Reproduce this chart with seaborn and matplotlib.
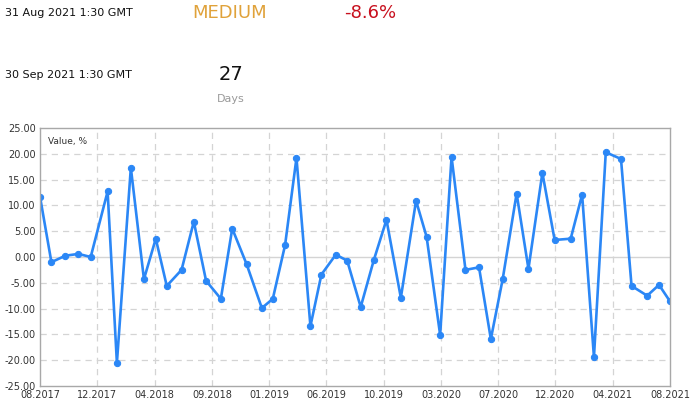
import matplotlib
matplotlib.use('Agg')
import matplotlib.pyplot as plt
import matplotlib.dates as mdates
import numpy as np
import pandas as pd
import seaborn as sns

# --- data ---
release_dates = [
    '2017-08-01', '2017-08-28', '2017-09-30', '2017-10-31', '2017-11-29',
    '2018-01-08', '2018-01-30', '2018-03-04', '2018-04-04', '2018-05-02',
    '2018-05-28', '2018-07-02', '2018-07-31', '2018-08-29', '2018-10-03',
    '2018-10-30', '2018-12-03', '2019-01-08', '2019-02-03', '2019-03-04',
    '2019-03-31', '2019-05-03', '2019-05-29', '2019-07-02', '2019-07-29',
    '2019-08-30', '2019-09-30', '2019-10-30', '2019-12-03', '2020-01-08',
    '2020-02-02', '2020-03-05', '2020-04-01', '2020-05-04', '2020-06-05',
    '2020-07-03', '2020-07-31', '2020-09-02', '2020-09-30', '2020-11-02',
    '2020-12-01', '2021-01-08', '2021-02-04', '2021-03-04', '2021-04-01',
    '2021-05-07', '2021-06-01', '2021-07-08', '2021-08-05', '2021-08-31',
]
values = [
    11.7, -1.0, 0.25, 0.6, 0.0,
    12.7, -20.5, 17.3, -4.3, 3.55,
    -5.6, -2.5, 6.85, -4.6, -8.1,
    5.5, -1.4, -9.9, -8.1, 2.3,
    19.2, -13.4, -3.4, 0.45, -0.7,
    -9.7, -0.6, 7.2, -7.9, 10.9,
    3.9, -15.1, 19.4, -2.5, -2.0,
    -15.9, -4.3, 12.3, -2.3, 16.3,
    3.3, 3.55, 12.1, -19.4, 20.3,
    19.0, -5.6, -7.5, -5.4, -8.6,
]
y_ticks = [-25, -20, -15, -10, -5, 0, 5, 10, 15, 20, 25]
n_xticks = 12

last_date = '31 Aug 2021 1:30 GMT'
next_date = '30 Sep 2021 1:30 GMT'
importance = 'MEDIUM'
last_value = '-8.6%'
days_left = '27'

df = pd.DataFrame({'Date': pd.to_datetime(release_dates), 'Value': values})

# --- style ---
sns.set_style('white')
line_blue = '#2b87f6'
grid_col = '#d4d4d4'
spine_col = '#a8a8a8'
tick_col = '#333333'

fig = plt.figure(figsize=(6.93, 4.07), dpi=100)
ax = fig.add_axes([40 / 693, 1 - 386 / 407, 630 / 693, 258 / 407])

sns.lineplot(data=df, x='Date', y='Value', ax=ax, color=line_blue,
             linewidth=1.9, marker='o', markersize=4.5,
             markeredgecolor=line_blue, markerfacecolor=line_blue)

# axes range and ticks
x0, x1 = df['Date'].iloc[0], df['Date'].iloc[-1]
ax.set_xlim(x0, x1)
ax.set_ylim(y_ticks[0], y_ticks[-1])
xt = np.linspace(mdates.date2num(x0), mdates.date2num(x1), n_xticks)
ax.set_xticks(xt)
ax.xaxis.set_major_formatter(mdates.DateFormatter('%m.%Y'))
ax.set_yticks(y_ticks)
ax.set_yticklabels([f'{v:.2f}' for v in y_ticks])
ax.tick_params(axis='both', length=0, labelsize=7, colors=tick_col, pad=3)
ax.set_xlabel('')
ax.set_ylabel('')

# grid
for v in y_ticks[1:-1]:
    if v == 0:
        ax.axhline(v, color=grid_col, linewidth=1.0, zorder=0)
    else:
        ax.axhline(v, color=grid_col, linewidth=0.9, linestyle=(0, (5, 4)), zorder=0)
for v in xt[1:-1]:
    ax.axvline(v, color=grid_col, linewidth=0.9, linestyle=(0, (5, 4)), zorder=0)

for s in ax.spines.values():
    s.set_visible(True)
    s.set_color(spine_col)
    s.set_linewidth(1.0)

ax.text(0.013, 0.965, 'Value, %', transform=ax.transAxes, ha='left', va='top',
        fontsize=6.5, color=tick_col)

# --- header ---
fig.text(5 / 693, 1 - 13 / 407, last_date, ha='left', va='center', fontsize=8, color='#111111')
fig.text(5 / 693, 1 - 75 / 407, next_date, ha='left', va='center', fontsize=8, color='#111111')
fig.text(230 / 693, 1 - 13 / 407, importance, ha='center', va='center', fontsize=13,
         color='#e0a23a')
fig.text(370 / 693, 1 - 13 / 407, last_value, ha='center', va='center', fontsize=13,
         color='#c8101e')
fig.text(231 / 693, 1 - 75 / 407, days_left, ha='center', va='center', fontsize=14,
         color='#111111')
fig.text(231 / 693, 1 - 99 / 407, 'Days', ha='center', va='center', fontsize=8,
         color='#9a9a9a')

fig.savefig('out.png', dpi=100, facecolor='white')
